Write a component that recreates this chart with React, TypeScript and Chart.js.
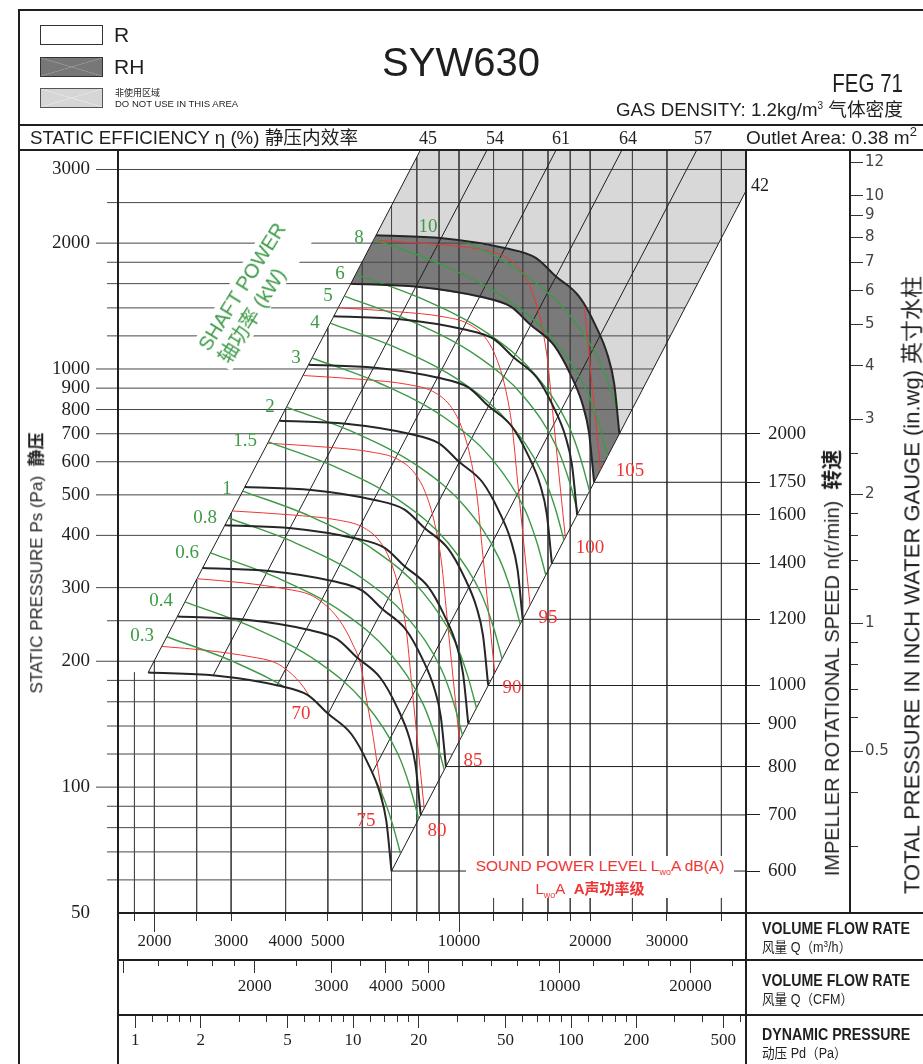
import React, { useEffect, useRef } from 'react';
import { Chart, registerables } from 'chart.js';

Chart.register(...registerables);

// ---------------- data ----------------
// impeller speeds (r/min) and the fan curve of each speed: flow Q (m3/h) / static pressure Ps (Pa)
const speedsRpm = [600, 700, 800, 900, 1000, 1200, 1400, 1600, 1750, 2000];
const fanQ = [
  [1935, 2750, 3840, 4500, 5000, 5660, 6180, 6580, 6810, 7000],
  [2258, 3208, 4480, 5250, 5833, 6603, 7210, 7677, 7945, 8167],
  [2580, 3667, 5120, 6000, 6667, 7547, 8240, 8773, 9080, 9333],
  [2903, 4125, 5760, 6750, 7500, 8490, 9270, 9870, 10215, 10500],
  [3225, 4583, 6400, 7500, 8333, 9433, 10300, 10967, 11350, 11667],
  [3870, 5500, 7680, 9000, 10000, 11320, 12360, 13160, 13620, 14000],
  [4515, 6417, 8960, 10500, 11667, 13207, 14420, 15353, 15890, 16333],
  [5160, 7333, 10240, 12000, 13333, 15093, 16480, 17547, 18160, 18667],
  [5644, 8021, 11200, 13125, 14583, 16508, 18025, 19192, 19863, 20417],
  [6450, 9167, 12800, 15000, 16667, 18867, 20600, 21933, 22700, 23333],
];
const fanP = [
  [188, 185, 175, 166, 150, 134, 114, 97, 83, 63],
  [255.9, 251.8, 238.2, 225.9, 204.2, 182.4, 155.2, 132.0, 113.0, 85.8],
  [334.2, 328.9, 311.1, 295.1, 266.7, 238.2, 202.7, 172.4, 147.6, 112.0],
  [423, 416.3, 393.8, 373.5, 337.5, 301.5, 256.5, 218.3, 186.8, 141.8],
  [522.2, 513.9, 486.1, 461.1, 416.7, 372.2, 316.7, 269.4, 230.6, 175],
  [752, 740, 700, 664, 600, 536, 456, 388, 332, 252],
  [1023.6, 1007.2, 952.8, 903.8, 816.7, 729.6, 620.7, 528.1, 451.9, 343],
  [1336.9, 1315.6, 1244.4, 1180.4, 1066.7, 952.9, 810.7, 689.8, 590.2, 448],
  [1599.3, 1573.8, 1488.7, 1412.2, 1276, 1139.9, 969.8, 825.2, 706.1, 535.9],
  [2088.9, 2055.6, 1944.4, 1844.4, 1666.7, 1488.9, 1266.7, 1077.8, 922.2, 700],
];

// static efficiency lines (straight in log-log), start on the 600 r/min curve
const effLabels = ['45', '54', '61', '64', '57', '42'];
const effStartQ = [1935, 2731, 3816, 5013, 6316, 7000];
const effStartP = [188, 185.3, 174.4, 150.1, 108, 63];
const effEndQ = [8926, 12690, 18280, 25880, 38440, 55780];
const effEndP = 4000;

// shaft power lines (kW)
const powerKw = ['0.3', '0.4', '0.6', '0.8', '1', '1.5', '2', '3', '4', '5', '6', '8', '10'];
const powerQ = [
  [2135, 3041, 4312, 5526, 6579, 7011, 7353],
  [2350, 3348, 4747, 6083, 7241, 7717, 8093],
  [2690, 3832, 5433, 6963, 8289, 8833, 9264],
  [2961, 4218, 5981, 7664, 9124, 9723, 10197],
  [3189, 4543, 6441, 8254, 9827, 10472, 10982],
  [3651, 5201, 7374, 9450, 11250, 11989, 12573],
  [4018, 5724, 8116, 10400, 12381, 13194, 13837],
  [4600, 6553, 9291, 11907, 14174, 15105, 15841],
  [5063, 7212, 10226, 13105, 15601, 16625, 17436],
  [5454, 7769, 11016, 14117, 16806, 17909, 18783],
  [5795, 8255, 11705, 15000, 17857, 19029, 19957],
  [6378, 9085, 12882, 16509, 19653, 20944, 21964],
  [6871, 9788, 13878, 17785, 21172, 22563, 23662],
];
const powerP = [
  [228.9, 199.4, 164.5, 131.2, 99.1, 82.6, 68.9],
  [277.3, 241.6, 199.3, 158.9, 120.0, 100.1, 83.5],
  [363.3, 316.5, 261.1, 208.2, 157.3, 131.1, 109.4],
  [440.2, 383.5, 316.3, 252.3, 190.6, 158.9, 132.5],
  [510.6, 444.9, 366.9, 292.6, 221.0, 184.3, 153.7],
  [669.3, 583.2, 481.0, 383.6, 289.7, 241.5, 201.5],
  [810.6, 706.3, 582.5, 464.6, 350.9, 292.5, 244.0],
  [1062.5, 925.8, 763.5, 608.9, 460.0, 383.5, 319.8],
  [1287.1, 1121.5, 924.9, 737.6, 557.2, 464.5, 387.4],
  [1493.6, 1301.4, 1073.3, 856.0, 646.6, 539.0, 449.6],
  [1686.2, 1469.2, 1211.7, 966.4, 730.0, 608.5, 507.5],
  [2042.5, 1779.6, 1467.7, 1170.6, 884.2, 737.1, 614.8],
  [2370.4, 2065.3, 1703.4, 1358.5, 1026.1, 855.5, 713.5],
];

// sound power level lines LwoA dB(A)
const soundDb = ['70', '75', '80', '85', '90', '95', '100', '105'];
const soundQ = [
  [2079, 2637, 3345, 3777, 4067, 4403, 4716, 4945, 5078, 5241, 5382, 5556, 5674],
  [2505, 3177, 4031, 4550, 4900, 5305, 5682, 5959, 6118, 6315, 6484, 6694, 6837],
  [3019, 4145, 5257, 6000, 6566, 6958, 7296, 7571, 7774, 7982, 8326],
  [3637, 4993, 6334, 7228, 7910, 8382, 8790, 9121, 9365, 9616, 10031],
  [4383, 6017, 7633, 8710, 9533, 10101, 10593, 10992, 11286, 11588, 12088],
  [5282, 7252, 9198, 10497, 11488, 12173, 12766, 13246, 13601, 13965, 14568],
  [6364, 8737, 11082, 12647, 13841, 14667, 15381, 15960, 16387, 16826, 17552],
  [7669, 10529, 13355, 15241, 16679, 17674, 18535, 19232, 19748, 20276, 21151],
];
const soundP = [
  [217, 212.3, 204.8, 198.7, 189.1, 173.1, 152.5, 133.7, 113.3, 94.4, 78.8, 62.1, 46.4],
  [315.1, 308.2, 297.4, 288.5, 274.5, 251.4, 221.5, 194.1, 164.5, 137.1, 114.4, 90.2, 67.4],
  [457.6, 447.6, 435.5, 419.0, 388.0, 347.5, 294.6, 236.3, 179.4, 136.2, 88.1],
  [664.5, 650.0, 632.3, 608.5, 563.4, 504.6, 427.7, 343.1, 260.6, 197.8, 128.0],
  [964.9, 943.9, 918.2, 883.6, 818.0, 732.7, 621.1, 498.2, 378.3, 287.3, 185.8],
  [1401, 1370.4, 1333.2, 1282.9, 1187.8, 1063.9, 901.8, 723.3, 549.3, 417.1, 269.8],
  [2034, 1989.7, 1935.6, 1862.5, 1724.4, 1544.6, 1309.3, 1050.2, 797.5, 605.5, 391.7],
  [2954, 2889.6, 2811.0, 2705.0, 2504.4, 2243.3, 1901.5, 1525.2, 1158.3, 879.4, 568.9],
];

// axis ticks / grid values
const gridQ = [1800, 2000, 2500, 3000, 4000, 5000, 6000, 7000, 8000, 9000, 10000, 12000, 14000, 16000, 18000, 20000, 25000, 30000, 40000];
const qLabels = [2000, 3000, 4000, 5000, 10000, 20000, 30000];
const qLongTicks = [2000, 10000];
const gridP = [60, 70, 80, 90, 100, 120, 140, 160, 180, 200, 250, 300, 400, 500, 600, 700, 800, 900, 1000, 1200, 1400, 1600, 1800, 2000, 2500, 3000];
const pLabels = [50, 100, 200, 300, 400, 500, 600, 700, 800, 900, 1000, 2000, 3000];
const cfmTicks = [1000, 1200, 1400, 1600, 1800, 2000, 2500, 3000, 3500, 4000, 4500, 5000, 6000, 7000, 8000, 9000, 10000, 12000, 14000, 16000, 18000, 20000, 25000];
const cfmLabels = [2000, 3000, 4000, 5000, 10000, 20000];
const cfmLongTicks = [1000, 2000, 3000, 4000, 5000, 10000, 20000];
const pdTicks = [1, 1.2, 1.4, 1.6, 1.8, 2, 3, 4, 5, 6, 7, 8, 9, 10, 12, 14, 16, 18, 20, 30, 40, 50, 60, 70, 80, 90, 100, 120, 140, 160, 180, 200, 300, 400, 500, 600];
const pdLabels = [1, 2, 5, 10, 20, 50, 100, 200, 500];
const inwgTicks = [0.3, 0.4, 0.5, 0.6, 0.7, 0.8, 0.9, 1, 1.2, 1.4, 1.6, 1.8, 2, 2.5, 3, 4, 5, 6, 7, 8, 9, 10, 12];
const inwgLabels = [0.5, 1, 2, 3, 4, 5, 6, 7, 8, 9, 10, 12];

// axis ranges
const Q_MIN = 1650, Q_MAX = 45550, P_MIN = 50, P_MAX = 3340;
const M3H_PER_CFM = 1.699;
const PD_REF_Q = 18070; // m3/h giving 100 Pa dynamic pressure
const INWG_MIN = 0.2094, INWG_MAX = 12.81;

// ---------------- styles ----------------
const SERIF = '"Liberation Serif", "Times New Roman", "Noto Sans CJK SC", serif';
const SANS = '"Liberation Sans", Arial, "Noto Sans CJK SC", sans-serif';
const GREEN = '#3d9a47';
const RED = '#ee3535';
const INK = '#1f1f1f';
const GRID = '#474747';

const logInterp = (x0: number, y0: number, x1: number, y1: number, x: number) => {
  const t = (Math.log10(x) - Math.log10(x0)) / (Math.log10(x1) - Math.log10(x0));
  return Math.pow(10, Math.log10(y0) + t * (Math.log10(y1) - Math.log10(y0)));
};
const pts = (qs: number[], ps: number[]) => qs.map((q, i) => ({ x: q, y: ps[i] }));
// short tick = dashed so only its first part shows
const tickDash = (long: number[], shortLen: number) => (c: any) =>
  c && c.tick && long.includes(c.tick.value) ? [] : [shortLen, 60];

function tracePts(ctx: CanvasRenderingContext2D, points: any[], reverse: boolean, move: boolean) {
  const list = reverse ? points.slice().reverse() : points;
  for (let i = 0; i < list.length; i++) {
    const p = list[i];
    if (i === 0) {
      if (move) ctx.moveTo(p.x, p.y);
      else ctx.lineTo(p.x, p.y);
      continue;
    }
    const q = list[i - 1];
    if (q.cp2x !== undefined && p.cp1x !== undefined) {
      if (!reverse) ctx.bezierCurveTo(q.cp2x, q.cp2y, p.cp1x, p.cp1y, p.x, p.y);
      else ctx.bezierCurveTo(q.cp1x, q.cp1y, p.cp2x, p.cp2y, p.x, p.y);
    } else ctx.lineTo(p.x, p.y);
  }
}

type TP = {
  x: number; y: number; children?: any; size?: number; color?: string; font?: string;
  anchor?: 'left' | 'center' | 'right'; weight?: any; rot?: number; sx?: number; style?: any;
};
const T = ({ x, y, children, size = 16, color = INK, font = SANS, anchor = 'center', weight = 400, rot = 0, sx = 1, style }: TP) => {
  const tx = anchor === 'left' ? '0' : anchor === 'right' ? '-100%' : '-50%';
  const origin = anchor === 'left' ? 'left center' : anchor === 'right' ? 'right center' : 'center center';
  return (
    <div
      style={{
        position: 'absolute', left: x, top: y, whiteSpace: 'nowrap', fontSize: size, lineHeight: 1.15,
        color, fontFamily: font, fontWeight: weight, transformOrigin: origin,
        transform: `translate(${tx},-50%) rotate(${rot}deg) scaleX(${sx})`, ...style,
      }}
    >
      {children}
    </div>
  );
};
const Bar = ({ x, y, w, h, c = INK }: any) => (
  <div style={{ position: 'absolute', left: x, top: y, width: w, height: h, background: c }} />
);

export default function App() {
  const ref = useRef<HTMLCanvasElement>(null);

  useEffect(() => {
    const canvas = ref.current;
    if (!canvas) return;
    const ds: any[] = [];
    const base = { pointRadius: 0, pointHoverRadius: 0, fill: false, tension: 0, showLine: true };

    const c1750 = pts(fanQ[8], fanP[8]);
    const c2000 = pts(fanQ[9], fanP[9]);
    // do-not-use area (above the top speed)
    ds.push({ ...base, data: [...c2000, { x: effEndQ[5], y: effEndP }, { x: effEndQ[0], y: effEndP }], fill: 'shape', backgroundColor: '#d8d8d8', borderWidth: 0, borderColor: 'rgba(0,0,0,0)', order: 100 });
    // RH band
    ds.push({ ...base, data: [...c1750, ...c2000.slice().reverse()], fill: 'shape', backgroundColor: '#7a7a7a', borderWidth: 0, borderColor: 'rgba(0,0,0,0)', order: 99 });

    // vertical grid lines, from the left efficiency line down to the bottom
    gridQ.forEach((q) => {
      const top = q <= effStartQ[0] ? effStartP[0] : Math.min(effEndP, logInterp(effStartQ[0], effStartP[0], effEndQ[0], effEndP, q));
      ds.push({ ...base, data: [{ x: q, y: top }, { x: q, y: P_MIN }], borderColor: GRID, borderWidth: 1, order: 90 });
    });
    // horizontal grid lines, from the pressure axis to the right efficiency line
    gridP.forEach((p) => {
      const start = pLabels.includes(p) ? 1469 : 1557;
      const end = p <= effStartP[5] ? effStartQ[5] : logInterp(effStartP[5], effStartQ[5], effEndP, effEndQ[5], p);
      ds.push({ ...base, data: [{ x: start, y: p }, { x: end, y: p }], borderColor: GRID, borderWidth: 1, order: 90, clip: { left: 26, top: 0, right: 0, bottom: 0 } });
    });
    // speed leader lines to the r/min scale
    speedsRpm.forEach((_, i) => {
      const n = fanQ[i].length - 1;
      ds.push({ ...base, data: [{ x: fanQ[i][n], y: fanP[i][n] }, { x: Q_MAX, y: fanP[i][n] }], borderColor: INK, borderWidth: 1, order: 85 });
    });
    // efficiency lines
    effLabels.forEach((_, i) => {
      ds.push({ ...base, data: [{ x: effStartQ[i], y: effStartP[i] }, { x: effEndQ[i], y: effEndP }], borderColor: INK, borderWidth: 1, order: 80 });
    });
    // sound level lines
    soundDb.forEach((_, i) => {
      ds.push({ ...base, data: pts(soundQ[i], soundP[i]), borderColor: RED, borderWidth: 1, cubicInterpolationMode: 'monotone', order: 60, fanClip: true });
    });
    // shaft power lines
    powerKw.forEach((_, i) => {
      ds.push({ ...base, data: pts(powerQ[i], powerP[i]), borderColor: GREEN, borderWidth: 1.4, cubicInterpolationMode: 'monotone', order: 50, fanClip: true });
    });
    // fan curves
    let lowIdx = -1;
    let highIdx = -1;
    speedsRpm.forEach((_, i) => {
      if (i === 0) lowIdx = ds.length;
      if (i === speedsRpm.length - 1) highIdx = ds.length;
      ds.push({ ...base, data: pts(fanQ[i], fanP[i]), borderColor: '#262626', borderWidth: 2, cubicInterpolationMode: 'monotone', order: 10 });
    });

    const fanClip = {
      id: 'fanClip',
      beforeDatasetDraw(chart: any, args: any) {
        const d = chart.data.datasets[args.index];
        if (!d || !d.fanClip) return;
        const area = chart.chartArea;
        const lo = chart.getDatasetMeta(lowIdx);
        const hi = chart.getDatasetMeta(highIdx);
        if (lo.dataset && lo.dataset.updateControlPoints) lo.dataset.updateControlPoints(area, 'x');
        if (hi.dataset && hi.dataset.updateControlPoints) hi.dataset.updateControlPoints(area, 'x');
        const ctx = chart.ctx;
        ctx.save();
        ctx.beginPath();
        tracePts(ctx, lo.data, false, true);
        tracePts(ctx, hi.data, true, false);
        ctx.closePath();
        ctx.clip();
      },
      afterDatasetDraw(chart: any, args: any) {
        const d = chart.data.datasets[args.index];
        if (d && d.fanClip) chart.ctx.restore();
      },
    };

    const speedEndP = speedsRpm.map((_, i) => fanP[i][fanP[i].length - 1]);
    const serif = (size: number) => ({ family: SERIF, size });

    const chart = new Chart(canvas, {
      type: 'line',
      data: { datasets: ds },
      options: {
        animation: false,
        responsive: false,
        devicePixelRatio: 1,
        events: [],
        layout: { padding: { left: 18, top: 150, right: 33, bottom: 0 } },
        plugins: { legend: { display: false }, tooltip: { enabled: false }, title: { display: false } },
        scales: {
          x: {
            type: 'logarithmic', axis: 'x', position: 'bottom', min: Q_MIN, max: Q_MAX, weight: 0,
            afterFit: (s: any) => { s.height = 47; },
            afterBuildTicks: (s: any) => { s.ticks = gridQ.map((v) => ({ value: v })); },
            grid: { display: true, drawOnChartArea: false, drawTicks: true, tickLength: 19, color: '#333', tickBorderDash: tickDash(qLongTicks, 8) },
            border: { display: false },
            ticks: { autoSkip: false, maxRotation: 0, minRotation: 0, padding: -1, font: serif(17), color: INK, callback: (v: any) => (qLabels.includes(v) ? String(v) : '') },
          },
          xCfm: {
            type: 'logarithmic', axis: 'x', position: 'bottom', min: Q_MIN / M3H_PER_CFM, max: Q_MAX / M3H_PER_CFM, weight: 1,
            afterFit: (s: any) => { s.height = 55; },
            afterBuildTicks: (s: any) => { s.ticks = cfmTicks.map((v) => ({ value: v })); },
            grid: { display: true, drawOnChartArea: false, drawTicks: true, tickLength: 13, color: '#333', tickBorderDash: tickDash(cfmLongTicks, 6) },
            border: { display: false },
            ticks: { autoSkip: false, maxRotation: 0, minRotation: 0, padding: 3, font: serif(17), color: INK, callback: (v: any) => (cfmLabels.includes(v) ? String(v) : '') },
          },
          xPd: {
            type: 'logarithmic', axis: 'x', position: 'bottom',
            min: 100 * Math.pow(Q_MIN / PD_REF_Q, 2), max: 100 * Math.pow(Q_MAX / PD_REF_Q, 2), weight: 2,
            afterFit: (s: any) => { s.height = 49; },
            afterBuildTicks: (s: any) => { s.ticks = pdTicks.map((v) => ({ value: v })); },
            grid: { display: true, drawOnChartArea: false, drawTicks: true, tickLength: 13, color: '#333', tickBorderDash: tickDash(pdLabels, 7) },
            border: { display: false },
            ticks: { autoSkip: false, maxRotation: 0, minRotation: 0, padding: 2, font: serif(17), color: INK, callback: (v: any) => (pdLabels.includes(v) ? String(v) : '') },
          },
          y: {
            type: 'logarithmic', axis: 'y', position: 'left', min: P_MIN, max: P_MAX,
            afterFit: (s: any) => { s.width = 100; },
            afterBuildTicks: (s: any) => { s.ticks = pLabels.map((v) => ({ value: v })); },
            grid: { display: false, drawTicks: false },
            border: { display: false },
            ticks: { autoSkip: false, padding: 28, font: serif(19), color: INK, callback: (v: any) => String(v) },
          },
          ySpeed: {
            type: 'logarithmic', axis: 'y', position: 'right', min: P_MIN, max: P_MAX, weight: 0,
            afterFit: (s: any) => { s.width = 104; },
            afterBuildTicks: (s: any) => { s.ticks = speedEndP.map((v) => ({ value: v })); },
            grid: { display: true, drawOnChartArea: false, drawTicks: true, tickLength: 14, color: INK },
            border: { display: false },
            ticks: { autoSkip: false, padding: 8, font: serif(19), color: INK, callback: (_v: any, i: number) => String(speedsRpm[i]) },
          },
          yInwg: {
            type: 'logarithmic', axis: 'y', position: 'right', min: INWG_MIN, max: INWG_MAX, weight: 1,
            afterFit: (s: any) => { s.width = 40; },
            afterBuildTicks: (s: any) => { s.ticks = inwgTicks.map((v) => ({ value: v })); },
            grid: { display: true, drawOnChartArea: false, drawTicks: true, tickLength: 13, color: '#333', tickBorderDash: tickDash(inwgLabels, 8) },
            border: { display: false },
            ticks: { autoSkip: false, padding: 2, font: { family: '"DejaVu Sans", sans-serif', size: 15 }, color: '#444', callback: (v: any) => (inwgLabels.includes(v) ? String(v) : '') },
          },
        },
      } as any,
      plugins: [fanClip as any],
    } as any);
    return () => chart.destroy();
  }, []);

  const effLabelX = [428, 495, 561, 628, 703];
  const greenPos = [[142, 635], [161, 600], [187, 552], [205, 517], [227, 488], [245, 440], [270, 406], [296, 357], [315, 322], [328, 295], [340, 273], [359, 237], [428, 226]];
  const redPos = [[301, 713], [366, 820], [437, 830], [473, 760], [512, 687], [548, 617], [590, 547], [630, 470]];

  return (
    <div style={{ position: 'fixed', left: 0, top: 0, width: 923, height: 1064, overflow: 'hidden', background: '#fff' }}>
      <canvas ref={ref} width={923} height={1064} style={{ position: 'absolute', left: 0, top: 0, width: 923, height: 1064 }} />

      {/* frame */}
      <Bar x={18} y={9} w={905} h={2} />
      <Bar x={18} y={9} w={2} h={1055} />
      <Bar x={18} y={124} w={905} h={2} />
      <Bar x={18} y={149} w={905} h={2} />
      <Bar x={117} y={150} w={2} h={914} />
      <Bar x={745} y={150} w={2} h={914} />
      <Bar x={849} y={150} w={2} h={764} />
      <Bar x={117} y={912} w={806} h={2} />
      <Bar x={117} y={959} w={806} h={2} />
      <Bar x={117} y={1014} w={806} h={2} />

      {/* legend boxes */}
      <div style={{ position: 'absolute', left: 40, top: 25, width: 61, height: 18, border: '1px solid #333', background: '#fff' }} />
      <div style={{ position: 'absolute', left: 40, top: 57, width: 61, height: 18, border: '1px solid #333', background: 'linear-gradient(to top right, transparent 48%, #9a9a9a 50%, transparent 52%), linear-gradient(to bottom right, transparent 48%, #9a9a9a 50%, transparent 52%), #777' }} />
      <div style={{ position: 'absolute', left: 40, top: 88, width: 61, height: 18, border: '1px solid #555', background: 'linear-gradient(to top right, transparent 48%, #e8e8e8 50%, transparent 52%), linear-gradient(to bottom right, transparent 48%, #e8e8e8 50%, transparent 52%), #d6d6d6' }} />
      <T x={114} y={35} anchor="left" size={21}>R</T>
      <T x={114} y={67} anchor="left" size={21}>RH</T>
      <T x={115} y={93} anchor="left" size={9}>非使用区域</T>
      <T x={115} y={104} anchor="left" size={9.5}>DO NOT USE IN THIS AREA</T>

      <T x={461} y={62} size={40}>SYW630</T>
      <T x={903} y={83} anchor="right" size={25} sx={0.82}>FEG 71</T>
      <T x={903} y={110} anchor="right" size={18.7}>
        GAS DENSITY: 1.2kg/m<sup style={{ fontSize: 10 }}>3</sup> 气体密度
      </T>

      <T x={30} y={138} anchor="left" size={18.7}>STATIC EFFICIENCY η (%) 静压内效率</T>
      {effLabelX.map((x, i) => (
        <T key={'e' + i} x={x} y={138} size={18} font={SERIF}>{effLabels[i]}</T>
      ))}
      <T x={746} y={137} anchor="left" size={19}>
        Outlet Area: 0.38 m<sup style={{ fontSize: 13 }}>2</sup>
      </T>
      <T x={760} y={185} size={18} font={SERIF}>{effLabels[5]}</T>

      {/* axis titles */}
      <T x={37} y={563} size={17} rot={-90}>
        STATIC PRESSURE Ps (Pa)&nbsp;&nbsp;<b>静压</b>
      </T>
      <T x={832} y={663} size={21} rot={-90} sx={0.95}>
        IMPELLER ROTATIONAL SPEED n(r/min)&nbsp;&nbsp;<b>转速</b>
      </T>
      <T x={912} y={585} size={22} rot={-90}>
        TOTAL PRESSURE IN INCH WATER GAUGE (in.wg) 英寸水柱
      </T>

      <T x={762} y={928} anchor="left" size={16.5} weight={700} sx={0.86}>VOLUME FLOW RATE</T>
      <T x={762} y={947} anchor="left" size={14} sx={0.9}>风量 Q（m<sup style={{ fontSize: 9 }}>3</sup>/h）</T>
      <T x={762} y={980} anchor="left" size={16.5} weight={700} sx={0.86}>VOLUME FLOW RATE</T>
      <T x={762} y={999} anchor="left" size={14} sx={0.9}>风量 Q（CFM）</T>
      <T x={762} y={1034} anchor="left" size={16.5} weight={700} sx={0.86}>DYNAMIC PRESSURE</T>
      <T x={762} y={1053} anchor="left" size={14} sx={0.9}>动压 Pd（Pa）</T>

      {/* curve labels */}
      {greenPos.map((p, i) => (
        <T key={'g' + i} x={p[0]} y={p[1]} size={19} font={SERIF} color={GREEN}>{powerKw[i]}</T>
      ))}
      {redPos.map((p, i) => (
        <T key={'r' + i} x={p[0]} y={p[1]} size={19} font={SERIF} color={RED}>{soundDb[i]}</T>
      ))}

      <div
        style={{
          position: 'absolute', left: 252, top: 293, transform: 'translate(-50%,-50%) rotate(-58deg)',
          background: '#fff', padding: '0 4px', fontFamily: SANS, fontSize: 20, lineHeight: '24px', color: GREEN,
          whiteSpace: 'nowrap', textAlign: 'left',
        }}
      >
        SHAFT POWER
        <br />
        轴功率 (kW)
      </div>

      <div style={{ position: 'absolute', left: 466, top: 856, width: 268, height: 42, background: '#fff' }} />
      <T x={600} y={867} size={15.5} color={RED}>
        SOUND POWER LEVEL L<sub style={{ fontSize: 9 }}>wo</sub>A dB(A)
      </T>
      <T x={590} y={890} size={15} color={RED}>
        L<sub style={{ fontSize: 9 }}>wo</sub>A&nbsp;&nbsp;<b>A声功率级</b>
      </T>
    </div>
  );
}
